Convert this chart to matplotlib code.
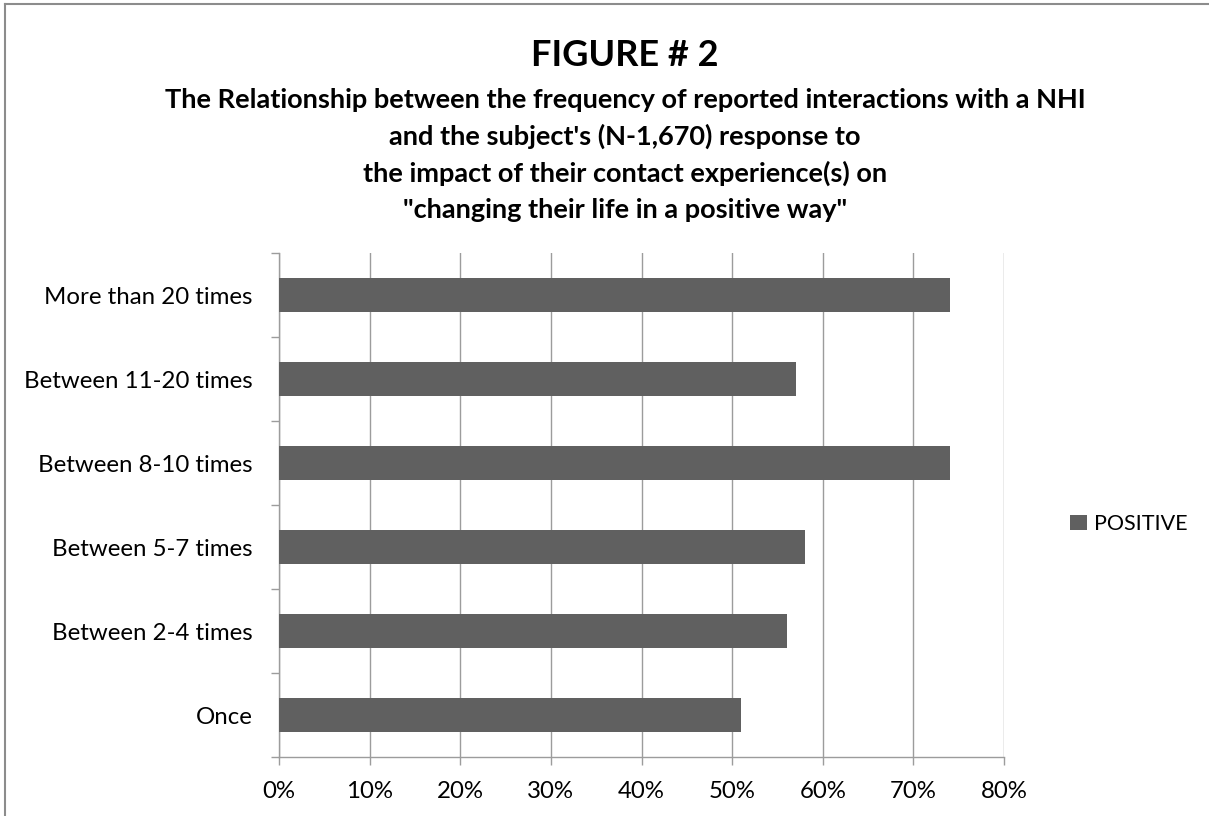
import matplotlib.pyplot as plt
from matplotlib.lines import Line2D
from matplotlib.patches import Patch
import numpy as np

# Response frequency groups, bottom to top
categories = ['Once', 'Between 2-4 times', 'Between 5-7 times',
              'Between 8-10 times', 'Between 11-20 times', 'More than 20 times']
positive = [51, 56, 58, 74, 57, 74]
series_name = 'POSITIVE'
xticks = [0, 10, 20, 30, 40, 50, 60, 70, 80]

title = 'FIGURE # 2'
subtitle_lines = [
    'The Relationship between the frequency of reported interactions with a NHI',
    "and the subject's (N-1,670) response to",
    'the impact of their contact experience(s) on',
    '"changing their life in a positive way"',
]

plt.rcParams['font.family'] = ['Lato', 'DejaVu Sans']

BAR = '#606060'
GRID = '#9c9c9c'
W, H = 1209, 816

fig = plt.figure(figsize=(W / 100, H / 100), dpi=100)
fig.patch.set_facecolor('white')

# plot area in pixel terms
left, right, top, bottom = 279, 1004, 253, 757
ax = fig.add_axes([left / W, 1 - bottom / H, (right - left) / W, (bottom - top) / H])

y = np.arange(len(categories))
ax.barh(y, positive, height=0.4, color=BAR, zorder=3)

ax.set_xlim(0, 80)
ax.set_ylim(-0.5, len(categories) - 0.5)
ax.set_xticks(xticks)
ax.set_xticklabels([f'{v}%' for v in xticks])
ax.xaxis.grid(True, color=GRID, linewidth=1.0, zorder=0)

# category boundaries carry the tick marks, labels sit at bar centres
ax.set_yticks(np.arange(-0.5, len(categories), 1.0))
ax.set_yticklabels([])
ax.set_yticks(y, minor=True)
ax.set_yticklabels(categories, minor=True)
ax.tick_params(axis='y', which='major', length=6, width=1.0, color=GRID, direction='out')
ax.tick_params(axis='y', which='minor', length=0, pad=19, labelsize=17.3)
ax.tick_params(axis='x', length=6, width=1.0, color=GRID, direction='out', pad=11, labelsize=17.3)

for side in ['top', 'right']:
    ax.spines[side].set_visible(False)
for side in ['left', 'bottom']:
    ax.spines[side].set_color(GRID)
    ax.spines[side].set_linewidth(1.0)

fig.text(625 / W, 1 - 56 / H, title, ha='center', va='center',
         fontsize=26, fontweight='bold')
for i, line in enumerate(subtitle_lines):
    fig.text(625 / W, 1 - (100 + 36.5 * i) / H, line, ha='center', va='center',
             fontsize=19.5, fontweight='bold')

handle = Patch(facecolor=BAR, edgecolor='none')
fig.legend([handle], [series_name], loc='center left',
           bbox_to_anchor=(1051 / W, 1 - 524 / H), frameon=False,
           fontsize=15.5, handlelength=0.75, handleheight=0.75, handletextpad=0.35)

# chart frame (only top and left edges remain visible)
fig.add_artist(Line2D([5 / W, 5 / W], [0, 1 - 4 / H], color='#8c8c8c', linewidth=1.5))
fig.add_artist(Line2D([5 / W, 1], [1 - 4 / H, 1 - 4 / H], color='#8c8c8c', linewidth=1.5))

fig.savefig('out.png', dpi=100)
